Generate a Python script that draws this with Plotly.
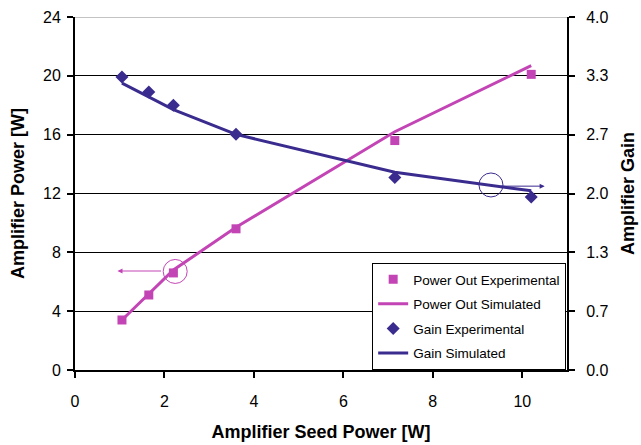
import plotly.graph_objects as go

seed_exp = [1.05, 1.65, 2.2, 3.6, 7.15, 10.2]
power_exp = [3.4, 5.1, 6.6, 9.6, 15.6, 20.1]
seed_sim = [1.05, 2.2, 3.6, 7.15, 10.2]
power_sim = [3.4, 6.8, 9.7, 16.2, 20.7]
gain_exp = [3.32, 3.15, 3.0, 2.67, 2.18, 1.96]
gain_sim = [3.25, 2.95, 2.67, 2.24, 2.03]

gain_ticks = [0, 4/6, 8/6, 2, 16/6, 20/6, 4]
gain_labels = ["0.0", "0.7", "1.3", "2.0", "2.7", "3.3", "4.0"]

PINK = "#C345B5"
NAVY = "#3A2B8F"
FONT = "Liberation Sans, Arial, sans-serif"

fig = go.Figure()
fig.add_trace(go.Scatter(x=seed_exp, y=power_exp, mode="markers", name="Power Out Experimental",
                         legendgroup="a", marker=dict(symbol="square", size=9, color=PINK)))
fig.add_trace(go.Scatter(x=seed_sim, y=power_sim, mode="lines", name="Power Out Simulated",
                         legendgroup="b", line=dict(color=PINK, width=3)))
fig.add_trace(go.Scatter(x=seed_exp, y=gain_exp, mode="markers", name="Gain Experimental",
                         legendgroup="c", marker=dict(symbol="diamond", size=10, color=NAVY), yaxis="y2"))
fig.add_trace(go.Scatter(x=seed_sim, y=gain_sim, mode="lines", name="Gain Simulated",
                         legendgroup="d", line=dict(color=NAVY, width=3), yaxis="y2"))

# annotation circles
fig.add_shape(type="circle", xref="x", yref="y", xsizemode="pixel", ysizemode="pixel",
              xanchor=2.24, yanchor=6.7, x0=-12, x1=12, y0=-12, y1=12,
              line=dict(color=PINK, width=1))
fig.add_shape(type="circle", xref="x", yref="y", xsizemode="pixel", ysizemode="pixel",
              xanchor=9.3, yanchor=12.58, x0=-12, x1=12, y0=-12, y1=12,
              line=dict(color=NAVY, width=1))
fig.add_annotation(x=0.95, y=6.73, xref="x", yref="y", ax=45, ay=0, text="",
                   showarrow=True, arrowhead=2, arrowsize=1, arrowwidth=1, arrowcolor=PINK)
fig.add_annotation(x=10.5, y=12.5, xref="x", yref="y", ax=-45, ay=0, text="",
                   showarrow=True, arrowhead=2, arrowsize=1, arrowwidth=1, arrowcolor=NAVY)

fig.update_layout(
    width=641, height=445,
    margin=dict(l=75, r=74, t=17, b=75),
    paper_bgcolor="white", plot_bgcolor="white",
    font=dict(family=FONT, size=16, color="black"),
    showlegend=True,
    legend=dict(x=0.604, y=0.303, xanchor="left", yanchor="top",
                bgcolor="white", bordercolor="black", borderwidth=1,
                font=dict(size=13.5), tracegroupgap=4, itemwidth=30),
    xaxis=dict(range=[0, 11], tickvals=[0, 2, 4, 6, 8, 10], showgrid=False,
               showline=True, linecolor="black", linewidth=2,
               ticks="outside", ticklen=6, tickwidth=2, tickcolor="black",
               zeroline=False, ticklabelstandoff=10, automargin=False,
               title=dict(text="<b>Amplifier Seed Power [W]</b>", font=dict(size=18), standoff=16)),
    yaxis=dict(range=[0, 24], tickvals=[0, 4, 8, 12, 16, 20, 24], showgrid=True,
               gridcolor="black", gridwidth=1,
               showline=True, linecolor="black", linewidth=2,
               ticks="outside", ticklen=6, tickwidth=2, tickcolor="black",
               zeroline=False, ticklabelstandoff=3, automargin=False,
               title=dict(text="<b>Amplifier Power [W]</b>", font=dict(size=18), standoff=14)),
    yaxis2=dict(range=[0, 4], overlaying="y", side="right", tickvals=gain_ticks,
                ticktext=gain_labels, showgrid=False,
                showline=True, linecolor="black", linewidth=2,
                ticks="outside", ticklen=6, tickwidth=2, tickcolor="black",
                zeroline=False, ticklabelstandoff=8, automargin=False,
                title=dict(text="<b>Amplifier Gain</b>", font=dict(size=18), standoff=14)),
)
fig.add_shape(type="line", xref="paper", yref="y", x0=0, x1=1, y0=24, y1=24,
              line=dict(color="#888888", width=1))

fig.write_html("out.html")
